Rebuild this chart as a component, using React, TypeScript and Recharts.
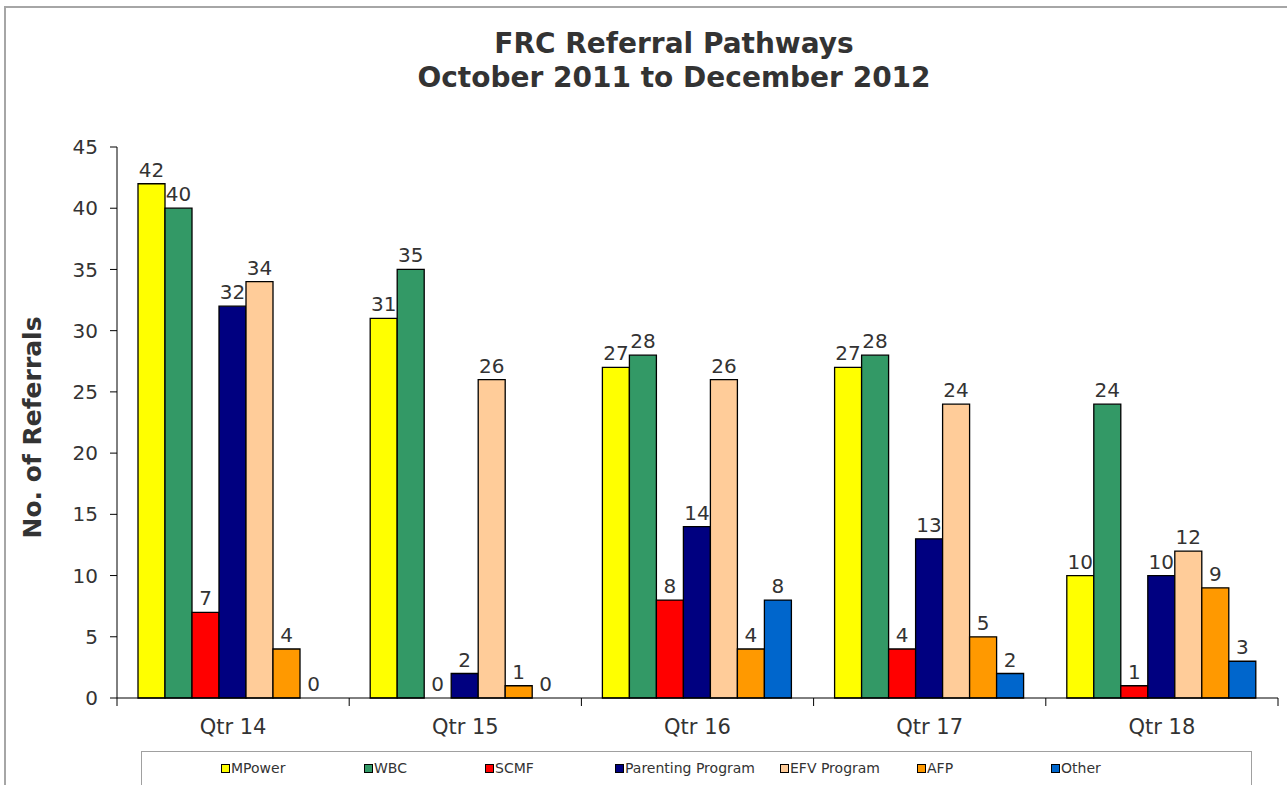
import { BarChart, Bar, XAxis, YAxis, LabelList, Cell } from 'recharts'

const QUARTERS = ['Qtr 14', 'Qtr 15', 'Qtr 16', 'Qtr 17', 'Qtr 18']
const MPOWER = [42, 31, 27, 27, 10]
const WBC = [40, 35, 28, 28, 24]
const SCMF = [7, 0, 8, 4, 1]
const PARENTING = [32, 2, 14, 13, 10]
const EFV = [34, 26, 26, 24, 12]
const AFP = [4, 1, 4, 5, 9]
const OTHER = [0, 0, 8, 2, 3]
const Y_TICKS = [0, 5, 10, 15, 20, 25, 30, 35, 40, 45]

const SERIES = [
  { key: 'mpower', name: 'MPower', values: MPOWER, color: '#FFFF00' },
  { key: 'wbc', name: 'WBC', values: WBC, color: '#339966' },
  { key: 'scmf', name: 'SCMF', values: SCMF, color: '#FF0000' },
  { key: 'parenting', name: 'Parenting Program', values: PARENTING, color: '#000080' },
  { key: 'efv', name: 'EFV Program', values: EFV, color: '#FFCC99' },
  { key: 'afp', name: 'AFP', values: AFP, color: '#FF9900' },
  { key: 'other', name: 'Other', values: OTHER, color: '#0066CC' },
]

// legend item left edges, relative to the legend box
const LEGEND_LEFT = [79, 222, 343, 473, 638, 775, 909]

const data = QUARTERS.map((q, i) => {
  const row: Record<string, string | number> = { name: q }
  SERIES.forEach(s => { row[s.key] = s.values[i] })
  return row
})

const FONT = '"DejaVu Sans", Verdana, sans-serif'
const TEXT = '#333'

function QtrTick(props: any) {
  const { x, y, payload, index, visibleTicksCount } = props
  const half = payload.offset || 0
  const isLast = index === visibleTicksCount - 1
  return (
    <g>
      <line x1={x - half} x2={x - half} y1={y} y2={y + 8} stroke="#000" />
      {isLast && <line x1={x + half} x2={x + half} y1={y} y2={y + 8} stroke="#000" />}
      <text x={x} y={y + 36} textAnchor="middle" fontSize={21} fill={TEXT} fontFamily={FONT}>
        {payload.value}
      </text>
    </g>
  )
}

export default function App() {
  return (
    <div style={{ position: 'absolute', left: 0, top: 0, width: 1287, height: 785, background: '#fff', overflow: 'hidden' }}>
      <div style={{ position: 'absolute', left: 4, top: 6, width: 1400, height: 900, borderLeft: '2px solid #a6a6a6', borderTop: '2px solid #a6a6a6' }} />
      <div style={{
        position: 'absolute', left: 0, top: 27, width: 1348, textAlign: 'center',
        fontFamily: FONT, fontWeight: 'bold', fontSize: 28, lineHeight: '34px', color: TEXT,
      }}>
        FRC Referral Pathways<br />October 2011 to December 2012
      </div>

      <div style={{ position: 'absolute', left: 0, top: 0 }}>
        <BarChart
          width={1287}
          height={785}
          data={data}
          margin={{ top: 147, right: 9, bottom: 57, left: 0 }}
          barGap={0}
          barCategoryGap={21}
        >
          <XAxis
            dataKey="name"
            height={30}
            axisLine={{ stroke: '#000' }}
            tickLine={false}
            tickSize={0}
            tickMargin={0}
            interval={0}
            tick={<QtrTick />}
          />
          <YAxis
            width={117}
            domain={[0, 45]}
            ticks={Y_TICKS}
            interval={0}
            axisLine={{ stroke: '#000' }}
            tickLine={{ stroke: '#000' }}
            tickSize={7}
            tickMargin={12}
            tick={{ fontSize: 20, fill: TEXT, fontFamily: FONT }}
            label={{
              content: ({ viewBox }: any) => (
                <text
                  x={viewBox.x + 41}
                  y={viewBox.y + viewBox.height / 2 + 5}
                  transform={`rotate(-90 ${viewBox.x + 41} ${viewBox.y + viewBox.height / 2 + 5})`}
                  textAnchor="middle"
                  fontSize={25}
                  fontWeight="bold"
                  fill={TEXT}
                  fontFamily={FONT}
                >
                  No. of Referrals
                </text>
              ),
            }}
          />
          {SERIES.map(s => (
            <Bar
              key={s.key}
              dataKey={s.key}
              name={s.name}
              fill={s.color}
              stroke="#000"
              strokeWidth={1.3}
              minPointSize={0.01}
              isAnimationActive={false}
            >
              {s.values.map((v, i) => (
                <Cell key={i} fill={v === 0 ? 'none' : s.color} stroke={v === 0 ? 'none' : '#000'} />
              ))}
              <LabelList dataKey={s.key} position="top" offset={7} fontSize={20} fill={TEXT} fontFamily={FONT} />
            </Bar>
          ))}
        </BarChart>
      </div>

      <div style={{
        position: 'absolute', left: 141, top: 751, width: 1111, height: 60,
        border: '1px solid #a0a0a0', boxSizing: 'border-box',
        fontFamily: FONT, fontSize: 14, color: TEXT,
      }}>
        {SERIES.map((s, i) => (
          <div key={s.key} style={{ position: 'absolute', left: LEGEND_LEFT[i], top: 8, display: 'flex', alignItems: 'center', whiteSpace: 'nowrap' }}>
            <span style={{ display: 'inline-block', width: 7, height: 7, background: s.color, border: '1px solid #000', marginRight: 1 }} />
            <span>{s.name}</span>
          </div>
        ))}
      </div>
    </div>
  )
}
